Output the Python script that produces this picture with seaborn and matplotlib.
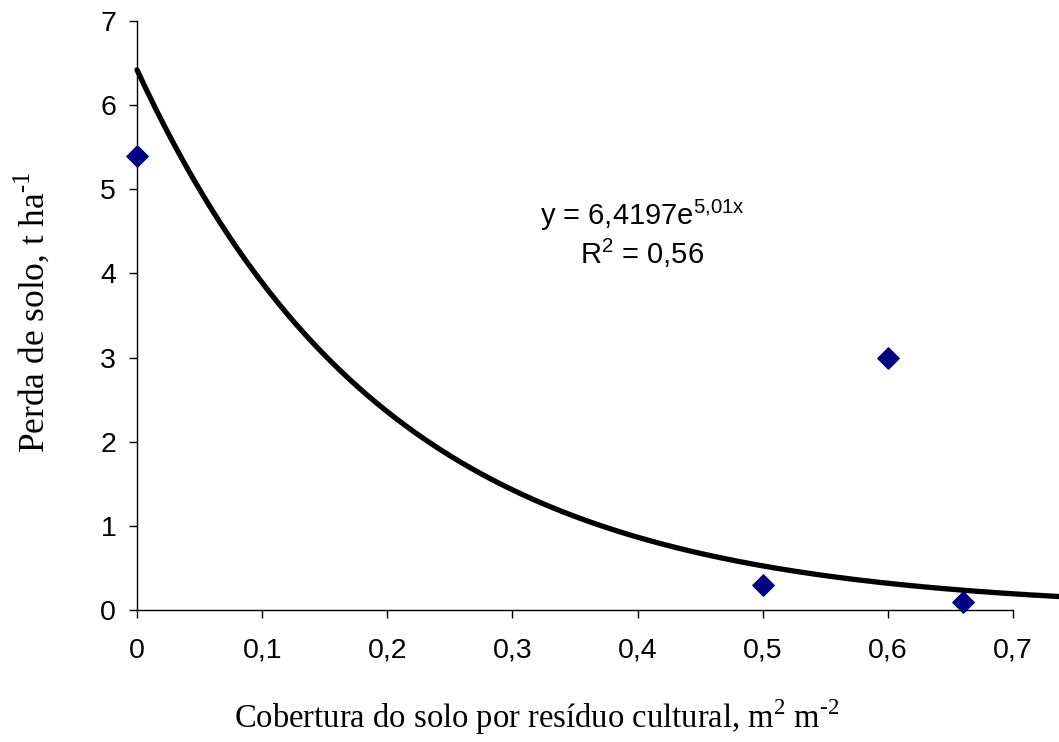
import numpy as np
import pandas as pd
import matplotlib
matplotlib.use("Agg")
import matplotlib.pyplot as plt
import seaborn as sns

# Observed data
cobertura = [0.0, 0.5, 0.6, 0.66]
perda = [5.4, 0.3, 3.0, 0.09]

# Exponential trendline coefficients (as printed on the chart)
coef_a = 6.4197
coef_b = 5.01
trend_x_max = 0.737

x_ticks = [0, 0.1, 0.2, 0.3, 0.4, 0.5, 0.6, 0.7]
x_labels = ["0", "0,1", "0,2", "0,3", "0,4", "0,5", "0,6", "0,7"]
y_ticks = [0, 1, 2, 3, 4, 5, 6, 7]

sns.set_theme(style="white")
plt.rcParams["font.family"] = ["Liberation Sans", "DejaVu Sans"]
plt.rcParams["mathtext.fontset"] = "custom"
plt.rcParams["mathtext.rm"] = "Liberation Serif"

fig, ax = plt.subplots(figsize=(10.59, 7.42), dpi=100)
fig.subplots_adjust(left=137/1059, right=1013/1059, top=1-21/742, bottom=1-610/742)

xs = np.linspace(0, trend_x_max, 200)
trend = pd.DataFrame({"x": xs, "y": coef_a * np.exp(-coef_b * xs)})
sns.lineplot(data=trend, x="x", y="y", ax=ax, color="black", lw=3.8, clip_on=False, zorder=2)

pts = pd.DataFrame({"x": cobertura, "y": perda})
sns.scatterplot(data=pts, x="x", y="y", ax=ax, marker="D", color="#000080", s=120,
                edgecolor="#000080", clip_on=False, zorder=3)

ax.set_xlim(0, 0.7)
ax.set_ylim(0, 7)
ax.set_xticks(x_ticks)
ax.set_xticklabels(x_labels)
ax.set_yticks(y_ticks)
ax.tick_params(axis="both", which="major", labelsize=20.5, direction="out", length=6,
               width=1, color="black", left=True, bottom=True, labelcolor="black")
ax.tick_params(axis="x", pad=14)
ax.tick_params(axis="y", pad=9)

for s in ["top", "right"]:
    ax.spines[s].set_visible(False)
for s in ["left", "bottom"]:
    ax.spines[s].set_color("black")
    ax.spines[s].set_linewidth(1)

serif = ["Liberation Serif", "DejaVu Serif"]
ax.set_xlabel(r"Cobertura do solo por resíduo cultural, m$^{\mathregular{2}}$ m$^{\text{-2}}$",
              fontsize=23.5, family=serif, color="black", va="baseline")
ax.xaxis.set_label_coords(0.4566, -0.2003)
ax.set_ylabel(r"Perda de solo, t ha$^{\text{-1}}$", fontsize=25.5, family=serif,
              color="black")
ax.yaxis.set_label_coords(-0.098, 0.506)

ax.text(0.4036, 4.69, r"y = 6,4197e$^{\mathregular{5{,}01x}}$", fontsize=21,
        ha="center", va="center", color="black")
ax.text(0.4036, 4.24, r"R$^{\mathregular{2}}$ = 0,56", fontsize=21,
        ha="center", va="center", color="black")

fig.savefig("out.png", dpi=100)
